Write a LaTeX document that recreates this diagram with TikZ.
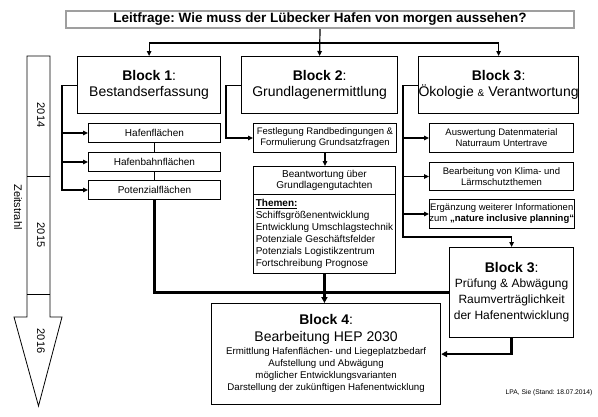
\documentclass[tikz,border=0pt]{standalone}
\usepackage{fontspec}
\setmainfont{Liberation Sans}
\usetikzlibrary{arrows.meta,positioning,calc}
\frenchspacing
\newcommand{\mtxt}{\fontsize{12}{14}\selectfont}
\newcommand{\sml}{\fontsize{9.7}{11.8}\selectfont}
\tikzset{
  blk/.style={draw=black,fill=white,line width=1.2pt,anchor=north west,inner sep=0pt,align=center,font=\fontsize{14}{16}\selectfont},
  sbox/.style={draw=black,fill=white,line width=0.9pt,anchor=north west,inner sep=0pt,align=center,font=\fontsize{9.5}{11}\selectfont},
  arr/.style={-{Triangle[length=5pt,width=4.5pt]},line width=1.2pt},
  tarr/.style={-{Triangle[length=6pt,width=6pt]},line width=2.4pt},
  tline/.style={line width=2.4pt},
  yr/.style={rotate=-90,font=\fontsize{11}{13}\selectfont},
}
\begin{document}
\begin{tikzpicture}[x=1pt,y=-1pt]
  \useasboundingbox (0,0) rectangle (598,416);
  \fill[white] (0,0) rectangle (598,416);
  % Zeitstrahl
  \draw[line width=0.8pt,fill=white] (27,56) -- (50,56) -- (50,317) -- (62,317) -- (38.5,406) -- (14,317) -- (27,317) -- cycle;
  \draw[line width=0.8pt] (27,176) -- (50,176) (27,294) -- (50,294);
  \node[yr] (y14) at (41,115) {2014};
  \node[yr] (y15) at (41,235) {2015};
  \node[yr] (y16) at (41,341) {2016};
  \node[yr] (zs) at (18,207) {Zeitstrahl};
  % Leitfrage
  \node[draw=gray!75,line width=2pt,fill=white,anchor=north west,inner sep=0pt,minimum width=508pt,minimum height=17pt,font=\fontsize{13.5}{15}\selectfont\bfseries] (lf) at (65,10) {Leitfrage: Wie muss der Lübecker Hafen von morgen aussehen?};
  % Bloecke
  \node[blk,minimum width=143pt,minimum height=57pt] (b1) at (77,56) {\textbf{Block 1}:\\Bestandserfassung};
  \node[blk,minimum width=156pt,minimum height=57pt] (b2) at (241,56) {\textbf{Block 2}:\\Grundlagenermittlung};
  \node[blk,minimum width=155pt,minimum height=57pt] (b3) at (418,56) {\textbf{Block 3}:\\Ökologie {\fontsize{10}{12}\selectfont\&} Verantwortung};
  \node[blk,minimum width=124pt,minimum height=90pt] (b3b) at (449,247) {\textbf{Block 3}:\\[-1pt]\mtxt Prüfung \& Abwägung\\\mtxt Raumverträglichkeit\\\mtxt der Hafenentwicklung};
  \node[blk,minimum width=229pt,minimum height=101pt] (b4) at (211,303) {\textbf{Block 4}:\\[1pt]Bearbeitung HEP 2030\\[1pt]\sml\begin{tabular}{@{}c@{}}Ermittlung Hafenflächen- und Liegeplatzbedarf\\Aufstellung und Abwägung\\möglicher Entwicklungsvarianten\\Darstellung der zukünftigen Hafenentwicklung\end{tabular}};
  % Block 1
  \foreach \n/\y/\t in {h1/123/Hafenflächen, h2/152/Hafenbahnflächen, h3/180/Potenzialflächen}{
    \node[sbox,minimum width=132pt,minimum height=19pt,font=\fontsize{10}{12}\selectfont] (\n) at (88,\y) {\t};
  }
  % Block 2
  \node[sbox,minimum width=143pt,minimum height=29pt] (fest) at (253,123) {Festlegung Randbedingungen \&\\Formulierung Grundsatzfragen};
  \node[sbox,minimum width=142pt,minimum height=28pt,font=\fontsize{10}{11.5}\selectfont] (bean) at (253,166) {Beantwortung über\\Grundlagengutachten};
  \node[sbox,minimum width=142pt,minimum height=79pt,align=left,font=\fontsize{10}{12}\selectfont] (themen) at (253,194) {\underline{\textbf{Themen:}}\\Schiffsgrößenentwicklung\\Entwicklung Umschlagstechnik\\Potenziale Geschäftsfelder\\Potenzials Logistikzentrum\\Fortschreibung Prognose};
  % Block 3
  \node[sbox,minimum width=144pt,minimum height=29pt] (e1) at (429,123) {Auswertung Datenmaterial\\Naturraum Untertrave};
  \node[sbox,minimum width=144pt,minimum height=28pt] (e2) at (429,162) {Bearbeitung von Klima- und\\Lärmschutzthemen};
  \node[sbox,minimum width=144pt,minimum height=29pt] (e3) at (429,199) {Ergänzung weiterer Informationen\\zum \textbf{„nature inclusive planning“}};
  \node[font=\fontsize{6.7}{8}\selectfont] (src) at (549,393) {LPA, Sie (Stand: 18.07.2014)};
  % Verbindungen
  \coordinate (split) at ($(lf.south)+(0,14)$);
  \draw[arr] (lf.south) -- (b2.north);
  \draw[arr] (split) -| (b1.north);
  \draw[arr] (split) -| (b3.north);
  \coordinate (bus1) at ($(b1.west)+(-15,0)$);
  \draw[arr] (b1.west) -- (bus1) |- (h3.west);
  \foreach \n in {h1,h2}{
    \draw[arr] (bus1 |- \n.west) -- (\n.west);
  }
  \draw[line width=0.8pt] (h1.south) -- (h2.north) (h2.south) -- (h3.north);
  \draw[arr] (b2.west) -- ++(-15,0) |- (fest.west);
  \draw[arr] (fest.south) -- (fest.south |- bean.north);
  \coordinate (bus3) at ($(b3.west)+(-15,0)$);
  \draw[arr] (b3.west) -- (bus3) |- ($(b3b.north)+(0,-10)$) -- (b3b.north);
  \foreach \n in {e1,e2,e3}{
    \draw[arr] (bus3 |- \n.west) -- (\n.west);
  }
  \draw[tline] (h3.south) |- (b3b.west);
  \draw[tarr] (themen.south) -- (themen.south |- b4.north);
  \draw[tarr] (b3b.south) |- (b4.east);
\end{tikzpicture}
\end{document}
